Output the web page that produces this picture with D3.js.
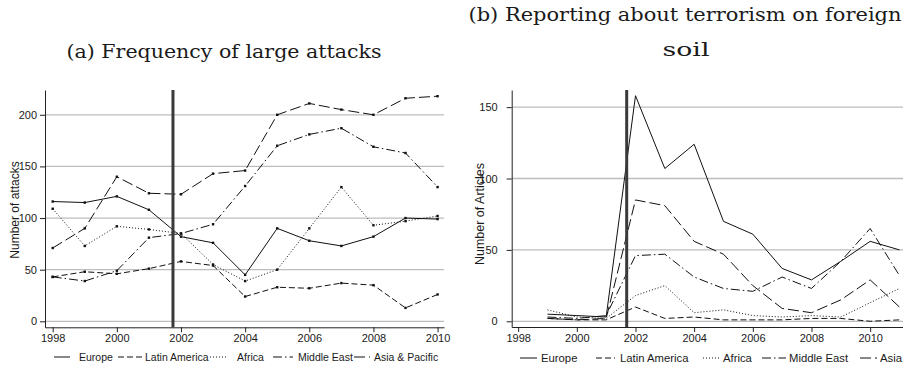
<!DOCTYPE html>
<html>
<head>
<meta charset="utf-8">
<script src="https://cdn.jsdelivr.net/npm/d3@7"></script>
<style>
  html, body { margin: 0; padding: 0; background: #fff; }
  svg { display: block; }
  .tick text { font-family: "Liberation Sans", Arial, sans-serif; fill: #1a1a1a; }
</style>
</head>
<body>
<svg id="chart" width="903" height="367"></svg>
<script>
// ---- Panel (a): frequency of large attacks, 1998-2010 ----
const yearsA = [1998, 1999, 2000, 2001, 2002, 2003, 2004, 2005, 2006, 2007, 2008, 2009, 2010];
const europeA      = [116, 115, 121, 108, 82, 76, 45, 90, 78, 73, 82, 100, 99];
const latinA       = [43, 48, 46, 51, 58, 54, 24, 33, 32, 37, 35, 13, 26];
const africaA      = [109, 73, 92, 89, 85, 55, 39, 50, 90, 130, 93, 97, 102];
const middleEastA  = [43, 39, 49, 81, 85, 94, 131, 170, 181, 187, 169, 163, 130];
const asiaA        = [71, 90, 140, 124, 123, 143, 146, 200, 211, 205, 200, 216, 218];

// ---- Panel (b): articles on terrorism abroad, 1999-2011 ----
const yearsB = [1999, 2000, 2001, 2002, 2003, 2004, 2005, 2006, 2007, 2008, 2009, 2010, 2011];
const europeB      = [5, 4, 3, 158, 107, 124, 70, 61, 37, 29, 42, 56, 50];
const latinB       = [2, 1, 1, 10, 2, 3, 1, 1, 1, 2, 2, 0, 1];
const africaB      = [8, 3, 2, 18, 25, 6, 8, 4, 3, 4, 3, 13, 23];
const middleEastB  = [3, 2, 4, 46, 47, 31, 23, 21, 31, 23, 42, 65, 32];
const asiaB        = [2, 1, 2, 85, 81, 56, 47, 25, 9, 6, 15, 29, 10];

const xTicks = [1998, 2000, 2002, 2004, 2006, 2008, 2010];
const yTicksA = [0, 50, 100, 150, 200];
const yTicksB = [0, 50, 100, 150];
const eventYearA = 2001.75;
const eventYearB = 2001.7;

const namesA = ["Europe", "Latin America", "Africa", "Middle East", "Asia & Pacific"];
const namesB = ["Europe", "Latin America", "Africa", "Middle East", "Asia"];

// line patterns per region
const dashes = [null, "6,3", "1,2", "9,3,1.5,3", "11,4"];

const svg = d3.select("#chart");

function panel(cfg) {
  const x = d3.scaleLinear().domain(cfg.xDomain).range(cfg.xRange);
  const y = d3.scaleLinear().domain(cfg.yDomain).range(cfg.yRange);
  const g = svg.append("g");

  // horizontal grid
  g.selectAll("line.grid").data(cfg.yTicks).join("line")
    .attr("class", "grid")
    .attr("x1", cfg.xRange[0]).attr("x2", cfg.xRange[1])
    .attr("y1", d => y(d)).attr("y2", d => y(d))
    .attr("stroke", "#bdbdbd").attr("stroke-width", 1.3);

  // series
  const line = d3.line().x(d => x(d[0])).y(d => y(d[1]));
  cfg.series.forEach((vals, i) => {
    const pts = cfg.years.map((yr, j) => [yr, vals[j]]);
    g.append("path").datum(pts)
      .attr("d", line)
      .attr("fill", "none")
      .attr("stroke", "#111")
      .attr("stroke-width", 1)
      .attr("stroke-dasharray", dashes[i]);
    if (cfg.markers) {
      g.selectAll(null).data(pts).join("rect")
        .attr("x", d => x(d[0]) - 1.2).attr("y", d => y(d[1]) - 1.2)
        .attr("width", 2.4).attr("height", 2.4).attr("fill", "#111");
    }
  });

  // event marker
  g.append("line")
    .attr("x1", x(cfg.eventYear)).attr("x2", x(cfg.eventYear))
    .attr("y1", cfg.yRange[1]).attr("y2", cfg.yRange[0])
    .attr("stroke", "#3a3a3a").attr("stroke-width", 3);

  // axes
  const ax = g.append("g").attr("transform", `translate(0,${cfg.yRange[0]})`)
    .call(d3.axisBottom(x).tickValues(xTicks).tickFormat(d3.format("d"))
      .tickSize(5).tickSizeOuter(0).tickPadding(2));
  ax.selectAll("text").attr("font-size", 11);
  ax.select(".domain").attr("stroke", "#222");
  ax.selectAll(".tick line").attr("stroke", "#222");

  const ay = g.append("g").attr("transform", `translate(${cfg.xRange[0]},0)`)
    .call(d3.axisLeft(y).tickValues(cfg.yTicks).tickSize(5).tickSizeOuter(0)
      .tickPadding(cfg.yPad));
  ay.selectAll("text").attr("font-size", 11);
  ay.select(".domain").attr("stroke", "#222");
  ay.selectAll(".tick line").attr("stroke", "#222");

  // y title
  g.append("text")
    .attr("transform", `translate(${cfg.yTitleX},${cfg.yTitleY}) rotate(-90)`)
    .attr("text-anchor", "middle").attr("dominant-baseline", "central")
    .attr("font-family", "Liberation Sans, Arial, sans-serif")
    .attr("font-size", cfg.yTitleSize).attr("fill", "#1a1a1a")
    .text(cfg.yTitle);

  // panel title
  cfg.title.forEach(t => {
    g.append("text")
      .attr("x", t.x).attr("y", t.y)
      .attr("text-anchor", "middle")
      .attr("font-family", "DejaVu Serif, serif")
      .attr("font-size", 18.5).attr("fill", "#1a1a1a")
      .attr("textLength", t.w).attr("lengthAdjust", "spacingAndGlyphs")
      .text(t.text);
  });

  // legend
  const lg = g.append("g");
  cfg.legend.forEach((it, i) => {
    lg.append("line")
      .attr("x1", it.sx).attr("x2", it.sx + it.sw)
      .attr("y1", cfg.legendY - 4).attr("y2", cfg.legendY - 4)
      .attr("stroke", "#111").attr("stroke-width", 1)
      .attr("stroke-dasharray", dashes[i]);
    lg.append("text")
      .attr("x", it.tx).attr("y", cfg.legendY)
      .attr("font-family", "Liberation Sans, Arial, sans-serif")
      .attr("font-size", cfg.legendSize).attr("fill", "#1a1a1a")
      .text(cfg.names[i]);
  });
}

panel({
  years: yearsA,
  series: [europeA, latinA, africaA, middleEastA, asiaA],
  names: namesA,
  xDomain: [1997.76, 2010.2], xRange: [45, 444],
  yDomain: [-5.8, 224], yRange: [327.3, 90],
  yTicks: yTicksA, yPad: 3,
  eventYear: eventYearA,
  markers: true,
  yTitle: "Number of attacks", yTitleX: 15, yTitleY: 210, yTitleSize: 12,
  title: [{ text: "(a) Frequency of large attacks", x: 224, y: 58, w: 315 }],
  legendY: 361, legendSize: 10.5,
  legend: [
    { sx: 54, sw: 16, tx: 79 },
    { sx: 118, sw: 24, tx: 145 },
    { sx: 210, sw: 16, tx: 237 },
    { sx: 273, sw: 20, tx: 298 },
    { sx: 354, sw: 16, tx: 374 }
  ]
});

panel({
  years: yearsB,
  series: [europeB, latinB, africaB, middleEastB, asiaB],
  names: namesB,
  xDomain: [1997.78, 2011.12], xRange: [511.7, 903],
  yDomain: [-4, 162], yRange: [327, 90],
  yTicks: yTicksB, yPad: 9,
  eventYear: eventYearB,
  markers: false,
  yTitle: "Number of Articles", yTitleX: 480, yTitleY: 214, yTitleSize: 12.5,
  title: [
    { text: "(b) Reporting about terrorism on foreign", x: 685, y: 21, w: 433 },
    { text: "soil", x: 686, y: 56, w: 47 }
  ],
  legendY: 362, legendSize: 11.3,
  legend: [
    { sx: 520, sw: 17, tx: 541 },
    { sx: 596, sw: 19, tx: 620 },
    { sx: 703, sw: 16, tx: 723 },
    { sx: 762, sw: 24, tx: 789 },
    { sx: 860, sw: 17, tx: 880 }
  ]
});
</script>
</body>
</html>
